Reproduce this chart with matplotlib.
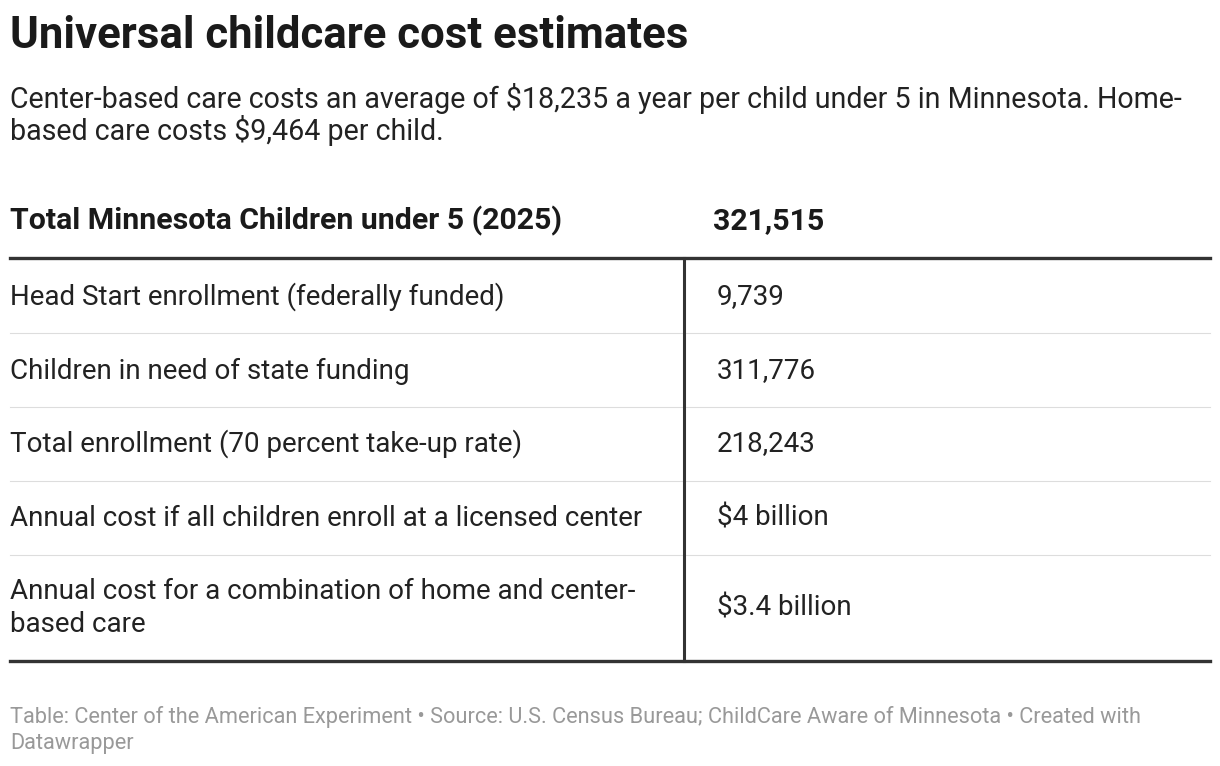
import matplotlib
matplotlib.use("Agg")
import matplotlib.pyplot as plt
from matplotlib.lines import Line2D

plt.rcParams['font.family'] = ['Roboto', 'DejaVu Sans']

title = "Universal childcare cost estimates"
subtitle = ["Center-based care costs an average of $18,235 a year per child under 5 in Minnesota. Home-",
            "based care costs $9,464 per child."]
header_label = "Total Minnesota Children under 5 (2025)"
header_value = "321,515"
row_labels = ["Head Start enrollment (federally funded)",
              "Children in need of state funding",
              "Total enrollment (70 percent take-up rate)",
              "Annual cost if all children enroll at a licensed center",
              "Annual cost for a combination of home and center-\nbased care"]
row_values = ["9,739", "311,776", "218,243", "$4 billion", "$3.4 billion"]
footer = ["Table: Center of the American Experiment • Source: U.S. Census Bureau; ChildCare Aware of Minnesota • Created with",
          "Datawrapper"]

W, H = 1220, 766
fig = plt.figure(figsize=(W/100, H/100), dpi=100)
fig.patch.set_facecolor("white")
def fx(x): return x / W
def fy(y): return 1 - y / H
def txt(x, y, s, **kw):
    fig.text(fx(x), fy(y), s, va="center", ha="left", **kw)
def hline(y, x0, x1, lw, c):
    fig.add_artist(Line2D([fx(x0), fx(x1)], [fy(y), fy(y)], lw=lw, color=c))

txt(10, 36, title, fontsize=31.5, fontweight="bold", color="#1a1a1a")
txt(10, 99, subtitle[0], fontsize=20.6, color="#222222")
txt(10, 131, subtitle[1], fontsize=20.6, color="#222222")
txt(10, 221, header_label, fontsize=21.8, fontweight="bold", color="#1a1a1a")
txt(713, 221, header_value, fontsize=21.8, fontweight="bold", color="#1a1a1a")

hline(258, 10, 1210, 2.4, "#333333")
row_centers = [297, 371, 444, 518, 608]
seps = [333, 407, 481, 555]
for y in seps:
    hline(y, 10, 1210, 0.8, "#dddddd")
hline(661, 10, 1210, 2.4, "#333333")
fig.add_artist(Line2D([fx(684), fx(684)], [fy(258), fy(661)], lw=2.2, color="#333333"))

for y, lab, val in zip(row_centers, row_labels, row_values):
    fig.text(fx(10), fy(y), lab, va="center", ha="left", fontsize=20, color="#222222", linespacing=1.25)
    txt(717, y, val, fontsize=20, color="#222222")

txt(10, 717, footer[0], fontsize=15.7, color="#999999")
txt(10, 743, footer[1], fontsize=15.7, color="#999999")

fig.savefig("out.png", dpi=100)
